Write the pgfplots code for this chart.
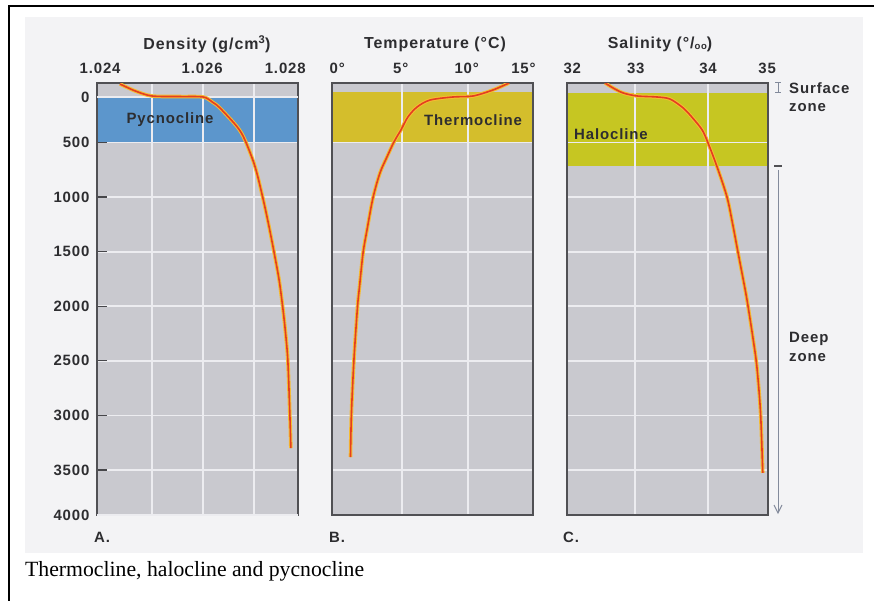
\documentclass[border=0pt]{standalone}
\usepackage{pgfplots}
\pgfplotsset{compat=1.18}
\usepackage{pgfplotstable}
\usepackage{fontspec}
\setmainfont{Liberation Serif}
\newfontfamily\labfam[LetterSpace=6]{Liberation Sans}
\newcommand\lab{\labfam\bfseries\fontsize{15}{17}\selectfont}
\newcommand\ttl{\labfam\bfseries\fontsize{16}{18}\selectfont}

\definecolor{panelgray}{RGB}{201,201,207}
\definecolor{gridwhite}{RGB}{236,236,240}
\definecolor{axisgray}{RGB}{80,80,84}
\definecolor{tickgray}{RGB}{70,70,74}
\definecolor{textgray}{RGB}{45,45,48}
\definecolor{bandblue}{RGB}{92,150,204}
\definecolor{bandthermo}{RGB}{212,190,44}
\definecolor{bandhalo}{RGB}{198,198,34}
\definecolor{curvered}{RGB}{228,62,32}
\definecolor{curveglow}{RGB}{245,188,50}
\definecolor{pagegray}{RGB}{243,243,245}
\definecolor{markgray}{RGB}{130,138,155}

% depth axis: values in m as drawn in the figure
\pgfplotstableread{
rho depth
1.02437 -35
1.02467 29
1.02500 75
1.02555 80
1.02600 84
1.02618 130
1.02633 185
1.02667 359
1.02682 478
1.02702 725
1.02718 1027
1.02729 1266
1.02739 1504
1.02749 1760
1.02756 2007
1.02761 2218
1.02766 2493
1.02770 2987
1.02772 3299
}\density

\pgfplotstableread{
temp depth
13.10 -44
11.89 20
10.38 75
8.86 84
7.12 112
6.14 176
5.45 267
4.92 386
4.39 496
3.86 634
3.33 780
2.80 1009
2.35 1302
2.05 1513
1.78 1824
1.63 2007
1.36 2493
1.17 2987
1.10 3381
}\temperature

\pgfplotstableread{
sal depth
32.59 -44
32.70 2
32.84 48
33.03 75
33.30 84
33.48 103
33.66 185
33.79 277
33.92 386
34.00 505
34.12 716
34.26 1000
34.34 1256
34.41 1504
34.51 1852
34.55 2007
34.62 2310
34.67 2557
34.72 2978
34.75 3527
}\salinity

\pgfplotsset{
  geom/.style={scale only axis, width=201bp, height=432bp, anchor=south west,
    y dir=reverse, ymin=-44, ymax=3912},
  panel/.style={geom, axis on top,
    axis background/.style={fill=panelgray},
    axis line style={draw=axisgray, line width=1.3bp},
    grid=major, grid style={draw=gridwhite, line width=1.8bp},
    ytick={500,1000,...,3500}, yticklabels={}, xticklabels={},
    xticklabel pos=upper, xtick style={draw=none}, ytick style={draw=none},
    tick label style={font=\lab, text=textgray},
    xticklabel style={yshift=6bp},
    extra x tick style={grid=none},
    title style={font=\ttl, text=textgray, anchor=center, at={(0.5,1)}, yshift=33bp}},
  curveaxis/.style={geom, hide axis},
  under/.style={draw=curveglow, line width=3.6bp, smooth, no markers},
  over/.style={draw=curvered, line width=1.6bp, smooth, no markers},
}

\begin{document}
\begin{tikzpicture}
\useasboundingbox (0,0) rectangle (874bp,601bp);
\fill[white] (0,0) rectangle (874bp,601bp);
\fill[pagegray] (25bp,48bp) rectangle (863bp,584bp);
\draw[black, line width=2bp] (9bp,0) -- (9bp,595bp) -- (874bp,595bp);

% A. density
\begin{axis}[panel, at={(97bp,86bp)}, xmin=1.02392, xmax=1.02786,
  xtick={1.025,1.026,1.027},
  extra x ticks={1.02398,1.02598,1.02761}, extra x tick labels={1.024,1.026,1.028},
  yticklabels={500,1000,1500,2000,2500,3000,3500},
  ytick style={draw=tickgray, line width=1.2bp}, tick align=inside,
  major tick length=10bp, ytick pos=left,
  yticklabel style={xshift=-4bp},
  extra y ticks={84,3912}, extra y tick labels={0,4000},
  extra y tick style={major tick length=0bp},
  title={Density (g/cm\textsuperscript{3})}, title style={xshift=9.5bp}]
\addplot[fill=bandblue, draw=none] coordinates {(1.0238,75) (1.0280,75) (1.0280,505) (1.0238,505)} -- cycle;
\end{axis}
\begin{axis}[curveaxis, at={(97bp,86bp)}, xmin=1.02392, xmax=1.02786]
\addplot[under] table[x=rho, y=depth] {\density};
\addplot[over] table[x=rho, y=depth] {\density};
\end{axis}

% B. temperature
\begin{axis}[panel, at={(332bp,86bp)}, xmin=-0.3, xmax=14.92,
  xtick={5,10},
  extra x ticks={0.1,4.9,9.9,14.2}, extra x tick labels={0°,5°,10°,15°},
  title={Temperature (°C)}, title style={xshift=2.5bp}]
\addplot[fill=bandthermo, draw=none] coordinates {(-1,39) (16,39) (16,505) (-1,505)} -- cycle;
\end{axis}
\begin{axis}[curveaxis, at={(332bp,86bp)}, xmin=-0.3, xmax=14.92]
\addplot[under] table[x=temp, y=depth] {\temperature};
\addplot[over] table[x=temp, y=depth] {\temperature};
\end{axis}

% C. salinity
\begin{axis}[panel, at={(567bp,86bp)}, xmin=32.068, xmax=34.822,
  xtick={33,34},
  extra x ticks={32.14,33.01,34,34.81}, extra x tick labels={32,33,34,35},
  title={Salinity (°/\raisebox{-0.15ex}{\scalebox{0.6}{oo}})}, title style={xshift=-7.5bp}]
\addplot[fill=bandhalo, draw=none] coordinates {(32,48) (35,48) (35,716) (32,716)} -- cycle;
\end{axis}
\begin{axis}[curveaxis, at={(567bp,86bp)}, xmin=32.068, xmax=34.822]
\addplot[under] table[x=sal, y=depth] {\salinity};
\addplot[over] table[x=sal, y=depth] {\salinity};
\end{axis}

% labels
\begin{scope}[every node/.style={font=\lab, text=textgray, inner sep=0pt}]
\node at (170bp,481bp) {Pycnocline};
\node at (473bp,481bp) {Thermocline};
\node at (611bp,467bp) {Halocline};
\node[anchor=west] at (94bp,64bp) {A.};
\node[anchor=west] at (329bp,64bp) {B.};
\node[anchor=west] at (563bp,64bp) {C.};
\node[anchor=west] at (789bp,513bp) {Surface};
\node[anchor=west] at (789bp,493bp) {zone};
\node[anchor=west] at (789bp,262bp) {Deep};
\node[anchor=west] at (789bp,243bp) {zone};
\end{scope}

% zone markers
\draw[markgray, line width=1bp] (778bp,518bp) -- (778bp,508bp)
  (775bp,518bp) -- (781bp,518bp) (775bp,508bp) -- (781bp,508bp);
\draw[axisgray, line width=1.3bp] (774bp,435bp) -- (782bp,435bp);
\draw[markgray, line width=1bp] (778bp,431bp) -- (778bp,89bp);
\draw[markgray, line width=1bp] (774bp,96bp) -- (778bp,88bp) -- (782bp,96bp);

\node[anchor=base west, inner sep=0pt, font=\fontsize{21.8}{24}\selectfont] at (25bp,25bp)
  {Thermocline, halocline and pycnocline};
\end{tikzpicture}
\end{document}
